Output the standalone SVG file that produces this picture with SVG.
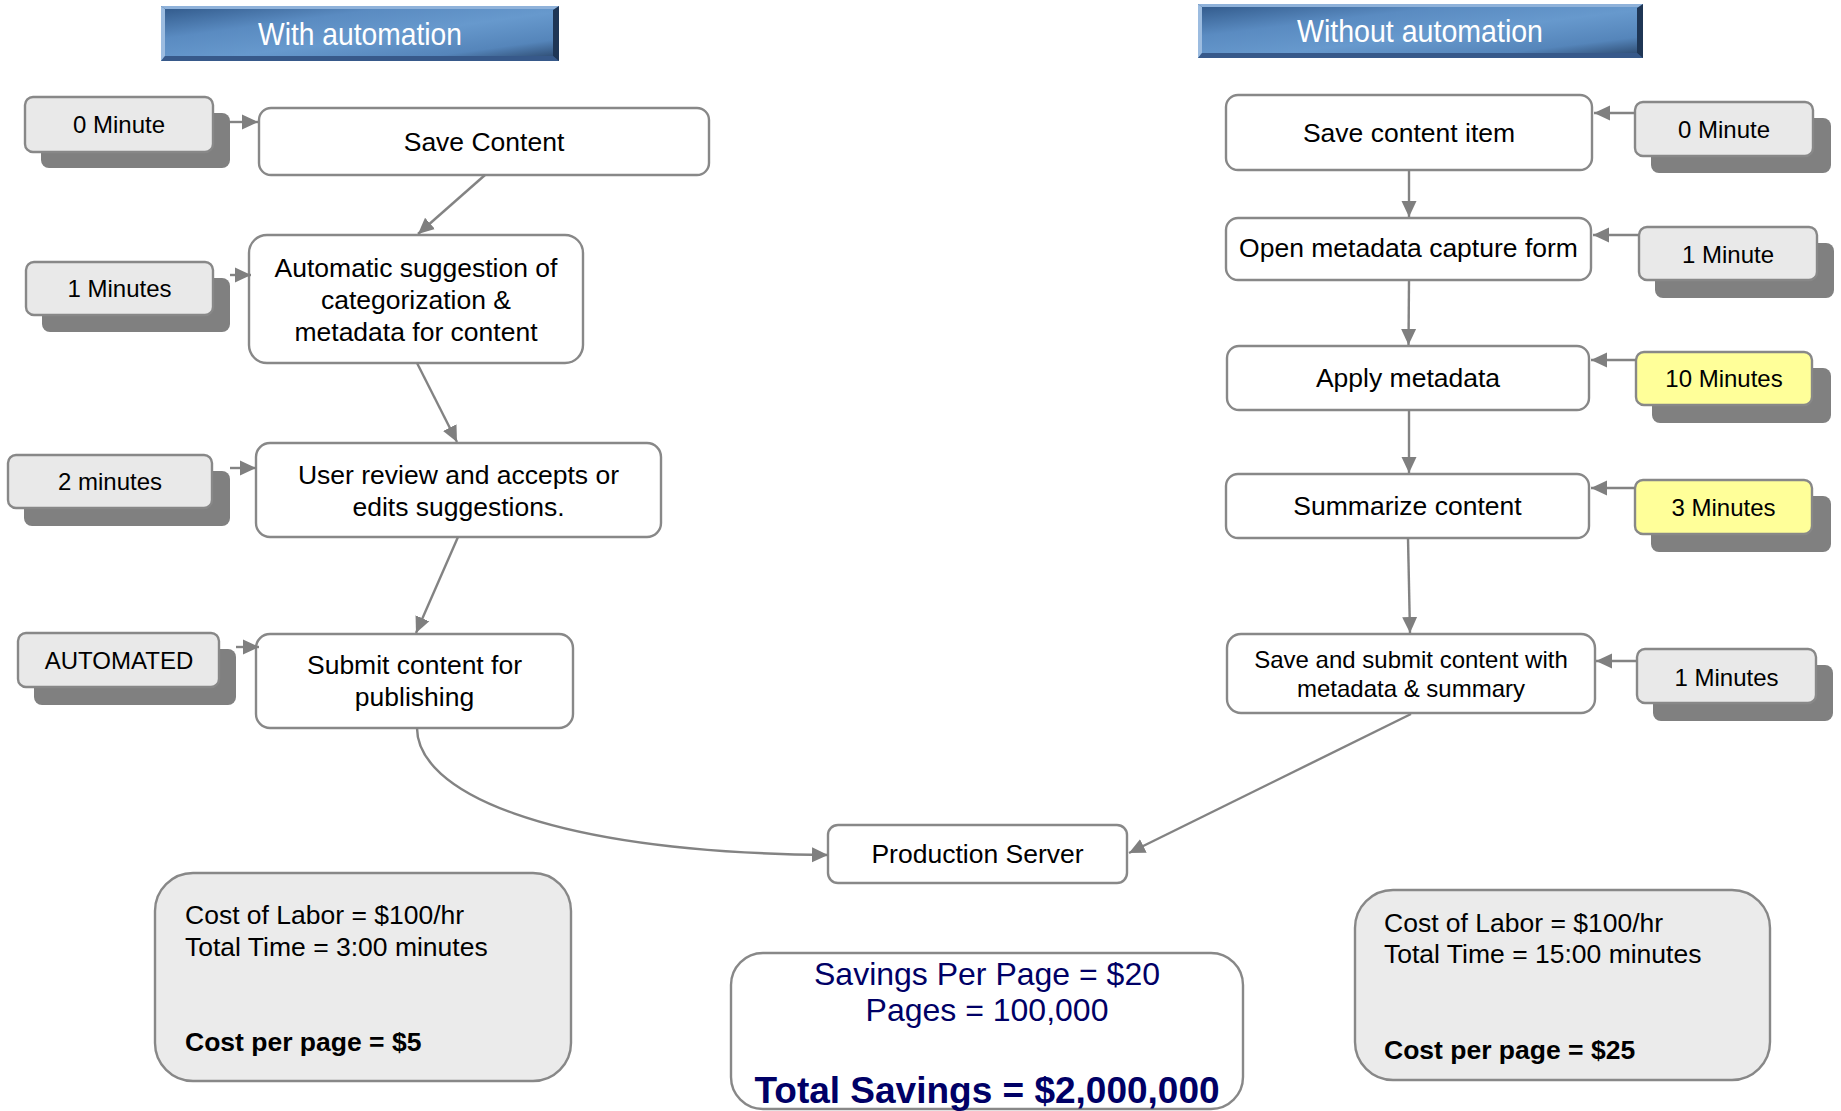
<svg xmlns="http://www.w3.org/2000/svg" width="1841" height="1111" viewBox="0 0 1841 1111">
<defs>
<linearGradient id="tg" x1="0" y1="0" x2="1" y2="1">
<stop offset="0" stop-color="#2f5788"/>
<stop offset="0.3" stop-color="#5a8bc1"/>
<stop offset="0.55" stop-color="#6799cd"/>
<stop offset="0.8" stop-color="#5585ba"/>
<stop offset="1" stop-color="#253f62"/>
</linearGradient>
<marker id="ah" markerUnits="userSpaceOnUse" markerWidth="17" markerHeight="17" viewBox="0 0 17 17" refX="16" refY="8.5" orient="auto">
<path d="M0,1 L16,8.5 L0,16 z" fill="#7f7f7f"/>
</marker>
<style>
text{font-family:"Liberation Sans",Arial,Helvetica,sans-serif;fill:#000}
.node{fill:#fff;stroke:#888;stroke-width:2.4}
.tb{fill:#e9e9e9;stroke:#888;stroke-width:2.4}
.ty{fill:#ffff99;stroke:#888;stroke-width:2.4}
.sh{fill:#808080}
.nt{font-size:26.5px;text-anchor:middle}
.st{font-size:24px;text-anchor:middle}
.tt{font-size:24px;text-anchor:middle}
.title{font-size:32px;fill:#fff;text-anchor:middle}
.cost{fill:#ebebeb;stroke:#888;stroke-width:2.4}
.ct{font-size:26.5px}
.cb{font-size:26.5px;font-weight:bold}
.sv{font-size:32px;fill:#000066;text-anchor:middle}
.svb{font-size:37px;fill:#000066;text-anchor:middle;font-weight:bold}
.conn path,.conn line{fill:none;stroke:#838383;stroke-width:2.4;marker-end:url(#ah)}
</style>
</defs>
<rect width="1841" height="1111" fill="#fff"/>

<g id="title-with">
<rect x="161" y="6" width="398" height="55" fill="url(#tg)"/>
<polygon points="161,6 559,6 555,9 165,9" fill="#8fb2da"/>
<polygon points="161,6 165,9 165,56 161,61" fill="#9cbce0"/>
<polygon points="553,10 559,6 559,61 553,56" fill="#1f3655"/>
<polygon points="165,56 553,56 559,61 161,61" fill="#37598a"/>
<text class="title" x="360" y="45" textLength="204" lengthAdjust="spacingAndGlyphs">With automation</text>
</g>
<g id="title-without">
<rect x="1198" y="4" width="445" height="54" fill="url(#tg)"/>
<polygon points="1198,4 1643,4 1639,7 1202,7" fill="#8fb2da"/>
<polygon points="1198,4 1202,7 1202,53 1198,58" fill="#9cbce0"/>
<polygon points="1637,8 1643,4 1643,58 1637,53" fill="#1f3655"/>
<polygon points="1202,53 1637,53 1643,58 1198,58" fill="#37598a"/>
<text class="title" x="1420" y="42" textLength="246" lengthAdjust="spacingAndGlyphs">Without automation</text>
</g>

<g id="left-time-0">
<rect class="sh" x="41" y="113" width="189" height="55" rx="8"/>
<rect class="tb" x="25" y="97" width="188" height="55" rx="8"/>
<text class="tt" x="119" y="133">0 Minute</text>
</g>
<g id="left-time-1">
<rect class="sh" x="42" y="278" width="188" height="54" rx="8"/>
<rect class="tb" x="26" y="262" width="187" height="53" rx="8"/>
<text class="tt" x="119.5" y="297">1 Minutes</text>
</g>
<g id="left-time-2">
<rect class="sh" x="24" y="471" width="206" height="55" rx="8"/>
<rect class="tb" x="8" y="455" width="204" height="53" rx="8"/>
<text class="tt" x="110" y="490">2 minutes</text>
</g>
<g id="left-time-3">
<rect class="sh" x="34" y="649" width="202" height="56" rx="8"/>
<rect class="tb" x="18" y="633" width="201" height="54" rx="8"/>
<text class="tt" x="119" y="669">AUTOMATED</text>
</g>

<g id="save-content">
<rect class="node" x="259" y="108" width="450" height="67" rx="12"/>
<text class="nt" x="484" y="151">Save Content</text>
</g>
<g id="auto-suggest">
<rect class="node" x="249" y="235" width="334" height="128" rx="18"/>
<text class="nt" x="416" y="277">Automatic suggestion of</text>
<text class="nt" x="416" y="309">categorization &amp;</text>
<text class="nt" x="416" y="341">metadata for content</text>
</g>
<g id="user-review">
<rect class="node" x="256" y="443" width="405" height="94" rx="14"/>
<text class="nt" x="458.5" y="484">User review and accepts or</text>
<text class="nt" x="458.5" y="516">edits suggestions.</text>
</g>
<g id="submit-content">
<rect class="node" x="256" y="634" width="317" height="94" rx="14"/>
<text class="nt" x="414.5" y="674">Submit content for</text>
<text class="nt" x="414.5" y="706">publishing</text>
</g>

<g id="right-time-0">
<rect class="sh" x="1651" y="118" width="180" height="55" rx="8"/>
<rect class="tb" x="1635" y="102" width="178" height="54" rx="8"/>
<text class="tt" x="1724" y="138">0 Minute</text>
</g>
<g id="right-time-1">
<rect class="sh" x="1655" y="243" width="179" height="55" rx="8"/>
<rect class="tb" x="1639" y="227" width="178" height="53" rx="8"/>
<text class="tt" x="1728" y="263">1 Minute</text>
</g>
<g id="right-time-2">
<rect class="sh" x="1652" y="368" width="179" height="55" rx="8"/>
<rect class="ty" x="1636" y="352" width="176" height="53" rx="8"/>
<text class="tt" x="1724" y="387">10 Minutes</text>
</g>
<g id="right-time-3">
<rect class="sh" x="1651" y="496" width="180" height="56" rx="8"/>
<rect class="ty" x="1635" y="480" width="177" height="54" rx="8"/>
<text class="tt" x="1723.5" y="516">3 Minutes</text>
</g>
<g id="right-time-4">
<rect class="sh" x="1653" y="665" width="180" height="56" rx="8"/>
<rect class="tb" x="1637" y="649" width="179" height="54" rx="8"/>
<text class="tt" x="1726.5" y="686">1 Minutes</text>
</g>

<g id="save-item">
<rect class="node" x="1226" y="95" width="366" height="75" rx="12"/>
<text class="nt" x="1409" y="142">Save content item</text>
</g>
<g id="open-metadata">
<rect class="node" x="1226" y="218" width="365" height="62" rx="12"/>
<text class="nt" x="1408.5" y="257">Open metadata capture form</text>
</g>
<g id="apply-metadata">
<rect class="node" x="1227" y="346" width="362" height="64" rx="12"/>
<text class="nt" x="1408" y="387">Apply metadata</text>
</g>
<g id="summarize">
<rect class="node" x="1226" y="474" width="363" height="64" rx="12"/>
<text class="nt" x="1407.5" y="515">Summarize content</text>
</g>
<g id="save-submit">
<rect class="node" x="1227" y="634" width="368" height="79" rx="14"/>
<text class="st" x="1411" y="668">Save and submit content with</text>
<text class="st" x="1411" y="697">metadata &amp; summary</text>
</g>

<g id="production-server">
<rect class="node" x="828" y="825" width="299" height="58" rx="10"/>
<text class="nt" x="977.5" y="863">Production Server</text>
</g>

<g id="cost-with">
<rect class="cost" x="155" y="873" width="416" height="208" rx="38"/>
<text class="ct" x="185" y="924">Cost of Labor = $100/hr</text>
<text class="ct" x="185" y="956">Total Time = 3:00 minutes</text>
<text class="cb" x="185" y="1051">Cost per page = $5</text>
</g>
<g id="cost-without">
<rect class="cost" x="1355" y="890" width="415" height="190" rx="38"/>
<text class="ct" x="1384" y="932">Cost of Labor = $100/hr</text>
<text class="ct" x="1384" y="963">Total Time = 15:00 minutes</text>
<text class="cb" x="1384" y="1059">Cost per page = $25</text>
</g>
<g id="savings">
<rect class="node" x="731" y="953" width="512" height="156" rx="32"/>
<text class="sv" x="987" y="985">Savings Per Page = $20</text>
<text class="sv" x="987" y="1021">Pages = 100,000</text>
<text class="svb" x="987" y="1103">Total Savings = $2,000,000</text>
</g>

<g id="connectors" class="conn">
<line x1="230" y1="122" x2="258" y2="122"/>
<line x1="230" y1="275" x2="251" y2="275"/>
<line x1="230" y1="468" x2="256" y2="468"/>
<line x1="236" y1="647" x2="259" y2="647"/>
<line x1="1635" y1="113" x2="1594" y2="113"/>
<line x1="1639" y1="235" x2="1593" y2="235"/>
<line x1="1636" y1="360" x2="1591" y2="360"/>
<line x1="1635" y1="488" x2="1591" y2="488"/>
<line x1="1637" y1="661" x2="1596" y2="661"/>
<line x1="485" y1="175" x2="418" y2="234"/>
<line x1="417" y1="363" x2="457" y2="442"/>
<line x1="458" y1="537" x2="416" y2="633"/>
<path d="M417,728 C417,790 540,852 828,855"/>
<line x1="1409" y1="170" x2="1409" y2="217"/>
<line x1="1409" y1="280" x2="1408.5" y2="345"/>
<line x1="1409" y1="410" x2="1409" y2="473"/>
<line x1="1408" y1="538" x2="1410" y2="633"/>
<line x1="1411" y1="714" x2="1129" y2="853"/>
</g>
</svg>
